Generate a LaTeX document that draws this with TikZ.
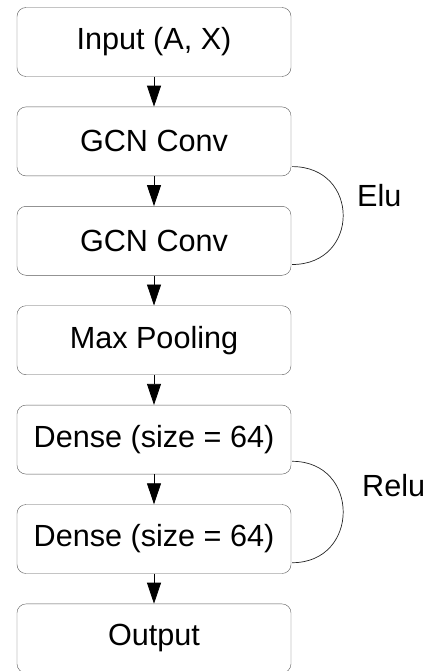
\documentclass[tikz,border=0pt]{standalone}
\usepackage{fontspec}
\setmainfont{Liberation Sans}
\usetikzlibrary{positioning, arrows.meta}

\begin{document}
\begin{tikzpicture}[x=1pt, y=1pt, node distance=30pt,
    layer/.style={draw=black!65, rounded corners=9pt, minimum width=274pt,
        minimum height=69pt, inner sep=0pt, font=\fontsize{30.6}{36}\selectfont},
    flow/.style={-{Triangle[length=21pt, width=14pt]}, line width=0.8pt},
    act/.style={draw=black!85, line width=0.7pt},
    actlabel/.style={anchor=west, inner sep=0pt, font=\fontsize{30.6}{36}\selectfont}]
    \useasboundingbox (0,0) rectangle (432,-671);
    % Layers
    \node[layer] (input) at (154,-42) {Input (A, X)};
    \node[layer, below=of input] (conv1) {GCN Conv};
    \node[layer, below=of conv1] (conv2) {GCN Conv};
    \node[layer, below=of conv2] (pool) {Max Pooling};
    \node[layer, below=of pool] (dense1) {Dense (size = 64)};
    \node[layer, below=of dense1] (dense2) {Dense (size = 64)};
    \node[layer, below=of dense2] (output) {Output};
    % Arrows
    \foreach \a/\b in {input/conv1, conv1/conv2, conv2/pool, pool/dense1,
        dense1/dense2, dense2/output}
        \draw[flow] (\a) -- (\b);
    % Activations
    \draw[act] ([shift={(1,9.5)}]conv1.south east) .. controls +(68,0) and +(68,0)
        .. ([shift={(1,11)}]conv2.south east);
    \node[actlabel] (elu) at (357,-196) {Elu};
    \draw[act] ([shift={(1,13)}]dense1.south east) .. controls +(68,0) and +(68,0)
        .. ([shift={(1,11)}]dense2.south east);
    \node[actlabel] (relu) at (362,-486) {Relu};
\end{tikzpicture}
\end{document}
